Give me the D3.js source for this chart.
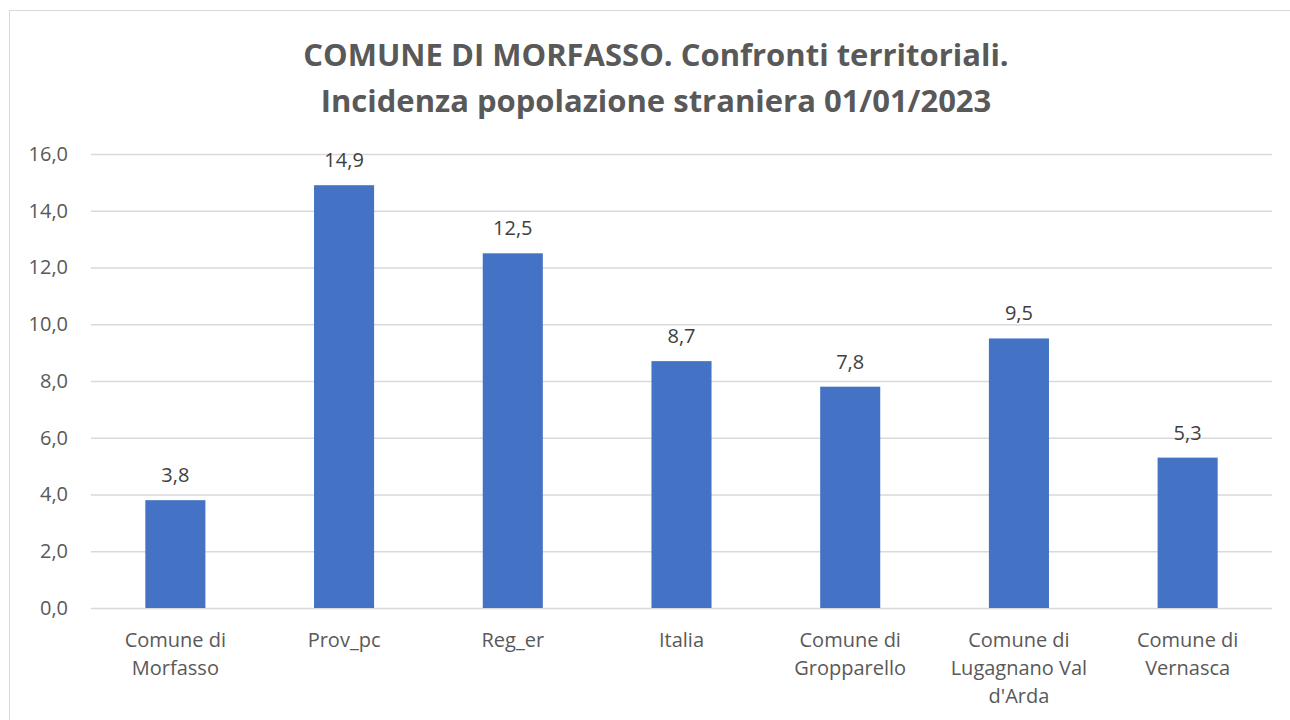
<!DOCTYPE html>
<html>
<head>
<meta charset="utf-8">
<script src="https://cdn.jsdelivr.net/npm/d3@7"></script>
<style>
  body { margin: 0; background: #fff; }
  svg text { font-family: 'Open Sans', sans-serif; }
</style>
</head>
<body>
<div id="chart"></div>
<script>
 var categories = ['Comune di Morfasso', 'Prov_pc', 'Reg_er', 'Italia',
     'Comune di Gropparello', 'Comune di Lugagnano Val d\'Arda', 'Comune di Vernasca'];
 var values = [3.8, 14.9, 12.5, 8.7, 7.8, 9.5, 5.3];
 var yTicks = [0, 2, 4, 6, 8, 10, 12, 14, 16];
 var titleLines = ['COMUNE DI MORFASSO. Confronti territoriali.',
     'Incidenza popolazione straniera 01/01/2023'];

 var pic_width = 1290,
     pic_height = 720,
     bar_color = '#4472C4',
     text_color = '#595959',
     grid_color = '#d9d9d9';

 // plot area inside the svg
 var plot = { left: 91, right: 1272, top: 154, bottom: 608 };

 var itFormat = d3.formatLocale({ decimal: ',', thousands: '.', grouping: [3], currency: ['', '€'] }).format('.1f');

 var svg = d3.select('#chart').append('svg')
     .attr('width', pic_width)
     .attr('height', pic_height);

 // chart border
 svg.append('rect')
     .attr('x', 9.5).attr('y', 10.5)
     .attr('width', 1290).attr('height', 720)
     .attr('fill', '#fff')
     .attr('stroke', '#d9d9d9');

 var xScale = d3.scaleBand()
     .domain(categories)
     .range([plot.left, plot.right])
     .paddingInner(0.644)
     .paddingOuter(0.322);

 var yScale = d3.scaleLinear()
     .domain([0, 16])
     .range([plot.bottom, plot.top]);

 // title
 svg.append('text')
     .attr('text-anchor', 'middle')
     .attr('fill', text_color)
     .style('font-size', '31px')
     .style('font-weight', 'bold')
     .selectAll('tspan').data(titleLines)
     .enter().append('tspan')
     .attr('x', 656)
     .attr('y', function(d, i) { return 66 + i * 46; })
     .text(function(d) { return d; });

 // y axis with gridlines
 var yAxis = d3.axisLeft(yScale)
     .tickValues(yTicks)
     .tickSize(-(plot.right - plot.left))
     .tickPadding(23)
     .tickFormat(itFormat);

 var yG = svg.append('g')
     .attr('transform', 'translate(' + plot.left + ',0)')
     .call(yAxis);
 yG.select('.domain').remove();
 yG.selectAll('.tick line').attr('stroke', grid_color).attr('stroke-width', 1.3);
 yG.selectAll('.tick text')
     .attr('fill', text_color)
     .style('font-size', '20px');

 // bars
 svg.append('g').selectAll('rect').data(values)
     .enter().append('rect')
     .attr('x', function(d, i) { return xScale(categories[i]); })
     .attr('y', function(d) { return yScale(d); })
     .attr('width', xScale.bandwidth())
     .attr('height', function(d) { return yScale(0) - yScale(d); })
     .attr('fill', bar_color);

 // value labels
 svg.append('g').selectAll('text').data(values)
     .enter().append('text')
     .attr('x', function(d, i) { return xScale(categories[i]) + xScale.bandwidth() / 2; })
     .attr('y', function(d) { return yScale(d) - 18; })
     .attr('text-anchor', 'middle')
     .attr('fill', '#404040')
     .style('font-size', '20px')
     .text(function(d) { return itFormat(d); });

 // x axis labels, wrapped
 var xAxis = d3.axisBottom(xScale).tickSize(0).tickPadding(0);
 var xG = svg.append('g')
     .attr('transform', 'translate(0,' + plot.bottom + ')')
     .call(xAxis);
 xG.select('.domain').remove();
 xG.selectAll('.tick text')
     .attr('fill', text_color)
     .style('font-size', '20px')
     .call(wrap, 150);

 function wrap(texts, width) {
     texts.each(function() {
         var text = d3.select(this),
             words = text.text().split(/\s+/),
             line = [],
             lineNumber = 0,
             tspan = text.text(null).append('tspan').attr('x', 0).attr('y', 39);
         words.forEach(function(word) {
             line.push(word);
             tspan.text(line.join(' '));
             if (tspan.node().getComputedTextLength() > width && line.length > 1) {
                 line.pop();
                 tspan.text(line.join(' '));
                 line = [word];
                 lineNumber++;
                 tspan = text.append('tspan').attr('x', 0).attr('y', 39 + lineNumber * 28).text(word);
             }
         });
         text.attr('dy', null);
     });
 }
</script>
</body>
</html>
